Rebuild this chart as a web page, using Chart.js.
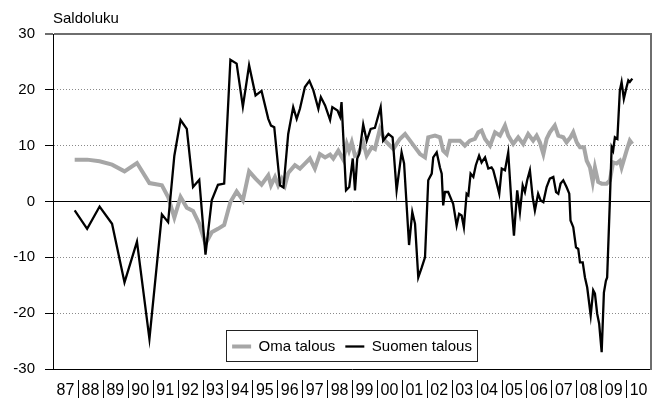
<!DOCTYPE html>
<html>
<head>
<meta charset="utf-8">
<script src="https://cdn.jsdelivr.net/npm/chart.js@4.4.1/dist/chart.umd.min.js"></script>
<style>
html,body{margin:0;padding:0;background:#fff;}
#wrap{width:664px;height:401px;position:relative;}
</style>
</head>
<body>
<div id="wrap"><canvas id="c"></canvas></div>
<script>
// ---- tick labels / categories ----
const xLabels = ['87','88','89','90','91','92','93','94','95','96','97','98','99','00','01','02','03','04','05','06','07','08','09','10'];
const firstYear = 1987;
const yMin = -30, yMax = 30, yStep = 10;
const seriesNames = ['Oma talous', 'Suomen talous'];

// ---- early survey dates (semi-annual, then quarterly), shared by both series ----
const earlyDates = [1987.87,1988.37,1988.87,1989.37,1989.87,1990.37,1990.87,
  1991.37,1991.62,1991.87,1992.12,1992.37,1992.62,1992.87,1993.12,1993.37,1993.62,1993.87,1994.12,1994.37,1994.62,1994.87];
const omaEarly = [7.5,7.5,7.2,6.6,5.4,6.9,3.3,
  2.9,0.8,-2.9,0.8,-1.1,-1.7,-4.0,-7.6,-5.5,-4.9,-4.2,-0.1,1.8,0.2,5.4];
const suomenEarly = [-1.6,-4.9,-0.9,-4.0,-14.5,-7.2,-24.6,
  -2.3,-3.7,8.2,14.6,13.0,2.6,3.9,-9.5,0.2,3.0,3.2,25.4,24.7,17.0,24.4];

// ---- Oma talous (monthly period) ----
const omaDates = [1995.13,1995.37,1995.64,1995.75,1995.91,1996.04,1996.18,1996.31,1996.44,1996.71,1996.91,
  1997.11,1997.31,1997.51,1997.71,1997.92,1998.12,1998.25,1998.45,1998.65,1998.79,1998.88,1998.99,
  1999.12,1999.25,1999.45,1999.59,1999.79,1999.92,2000.12,2000.32,2000.46,2000.66,2000.79,2000.92,
  2001.13,2001.33,2001.53,2001.73,2001.93,2002.06,2002.33,2002.53,2002.66,2002.80,2002.93,
  2003.13,2003.33,2003.53,2003.73,2003.93,2004.07,2004.20,2004.34,2004.54,2004.74,2004.94,
  2005.14,2005.27,2005.47,2005.67,2005.87,2006.07,2006.27,2006.41,2006.54,2006.68,2006.81,2006.94,
  2007.14,2007.28,2007.48,2007.61,2007.77,2007.88,2008.02,2008.15,2008.31,2008.42,2008.55,2008.66,2008.75,2008.88,
  2009.02,2009.22,2009.35,2009.48,2009.62,2009.75,2009.82,2010.02,2010.15,2010.25];
const omaValues = [4.1,3.0,4.7,2.9,4.4,2.9,4.1,2.9,5.1,6.5,5.9,
  6.8,7.7,5.9,8.5,7.9,8.4,7.7,9.1,7.5,10.3,9.1,10.6,
  8.2,8.5,10.6,8.2,9.7,9.4,13.0,10.9,10.3,9.4,10.3,11.2,
  12.1,10.9,9.7,8.5,7.9,11.5,11.8,11.5,9.1,8.5,10.9,
  10.9,10.9,10.0,10.9,11.2,12.4,12.7,11.2,10.0,12.4,11.8,
  13.6,11.8,10.3,11.5,10.3,12.1,10.9,11.8,10.6,8.5,11.2,12.4,
  13.6,11.8,11.5,10.6,11.5,12.4,10.6,9.7,9.7,7.3,6.1,3.5,6.1,3.5,
  3.2,3.2,3.8,7.0,6.8,7.3,6.1,9.1,10.9,10.3];

// ---- Suomen talous (monthly period) ----
const suomenDates = [1995.13,1995.37,1995.64,1995.75,1995.88,1996.11,1996.25,1996.44,1996.64,1996.78,1996.91,
  1997.11,1997.29,1997.45,1997.65,1997.75,1997.92,1998.12,1998.21,1998.42,1998.52,1998.58,1998.76,1998.89,
  1999.03,1999.12,1999.21,1999.29,1999.45,1999.59,1999.75,1999.92,2000.15,2000.25,2000.46,2000.63,2000.79,2000.99,
  2001.09,2001.29,2001.42,2001.53,2001.66,2001.80,2001.93,2002.06,2002.20,2002.26,2002.40,2002.53,2002.60,2002.66,2002.73,2002.86,
  2003.00,2003.06,2003.20,2003.30,2003.40,2003.49,2003.60,2003.67,2003.76,2003.87,2003.97,
  2004.10,2004.20,2004.34,2004.47,2004.60,2004.67,2004.81,2004.91,2005.01,2005.14,2005.27,2005.41,2005.50,2005.63,2005.74,2005.85,2005.94,
  2006.03,2006.14,2006.25,2006.34,2006.47,2006.57,2006.68,2006.81,2006.94,2007.08,2007.19,2007.28,2007.37,2007.48,2007.61,2007.72,2007.77,2007.88,2007.99,
  2008.08,2008.15,2008.26,2008.35,2008.44,2008.58,2008.68,2008.75,2008.84,2008.92,2009.02,2009.11,2009.19,2009.24,2009.35,2009.42,2009.48,2009.55,2009.65,
  2009.75,2009.82,2009.91,2010.02,2010.09,2010.15,2010.25];
const suomenValues = [19.0,19.8,14.8,13.6,13.3,2.9,2.5,12.1,16.9,14.8,16.6,
  20.5,21.6,19.9,16.6,18.7,17.2,14.6,16.9,16.3,15.2,17.8,2.0,2.6,
  7.7,2.0,7.7,8.5,13.8,10.9,13.0,13.2,16.9,10.9,12.1,11.5,2.0,8.8,
  6.8,-7.8,-1.9,-4.0,-13.6,-11.8,-10.0,3.8,5.0,7.9,8.8,6.1,5.0,-0.7,1.7,1.7,
  0.2,-0.4,-4.3,-2.2,-2.5,-4.6,1.4,1.1,5.0,4.4,6.5,
  8.2,7.0,7.9,5.9,6.1,5.6,3.2,1.4,5.9,5.6,8.8,-1.0,-6.1,2.0,-1.9,2.9,1.7,
  3.8,5.6,0.8,-1.6,1.4,0.2,-0.1,2.6,4.1,4.4,1.7,1.4,3.2,3.8,2.6,1.4,-3.4,-4.6,-8.2,
  -8.5,-10.9,-10.9,-13.6,-15.4,-20.4,-15.9,-16.5,-20.1,-21.9,-27.0,-16.3,-14.2,-13.6,0.2,9.7,9.1,11.5,11.2,
  19.9,21.4,18.4,20.5,21.7,21.4,22.0];

function toPoints(dates, values) {
  return dates.map((d, i) => ({x: d, y: values[i]}));
}
const omaData = toPoints(earlyDates, omaEarly).concat(toPoints(omaDates, omaValues));
const suomenData = toPoints(earlyDates, suomenEarly).concat(toPoints(suomenDates, suomenValues));

const FONT = "'Liberation Sans', Arial, sans-serif";
Chart.defaults.font.family = FONT;
Chart.defaults.color = '#000';

const helperPlugin = {
  id: 'helper',
  afterLayout(chart) {
    const lg = chart.legend;
    const ca = chart.chartArea;
    if (!lg) return;
    lg.left = ca.left; lg.right = ca.right; lg.width = ca.right - ca.left;
    lg.top = ca.bottom - 40; lg.height = 31; lg.bottom = lg.top + lg.height;
  },
  afterDraw(chart) {
    const ctx = chart.ctx;
    const ca = chart.chartArea;
    const xs = chart.scales.x;
    // year separators in the label row
    ctx.save();
    ctx.strokeStyle = '#000';
    ctx.lineWidth = 1;
    ctx.beginPath();
    for (let i = 1; i < xLabels.length; i++) {
      const px = Math.round(xs.getPixelForValue(firstYear + i)) + 0.5;
      ctx.moveTo(px, ca.bottom + 11);
      ctx.lineTo(px, ca.bottom + 29);
    }
    ctx.stroke();
    // legend frame
    const lg = chart.legend;
    if (lg && lg.legendHitBoxes && lg.legendHitBoxes.length) {
      const hb = lg.legendHitBoxes;
      const l = Math.min(...hb.map(b => b.left)) - 6;
      const r = Math.max(...hb.map(b => b.left + b.width)) + 5;
      const t = hb[0].top - 9;
      const h = 31;
      ctx.strokeStyle = '#222';
      ctx.strokeRect(Math.round(l) + 0.5, Math.round(t) + 0.5, Math.round(r - l), h);
    }
    ctx.restore();
  }
};

new Chart(document.getElementById('c'), {
  type: 'line',
  data: {
    datasets: [
      {label: seriesNames[0], data: omaData, borderColor: '#a6a6a6', backgroundColor: '#a6a6a6',
       borderWidth: 4, pointRadius: 0, fill: false, tension: 0, order: 1},
      {label: seriesNames[1], data: suomenData, borderColor: '#000', backgroundColor: '#000',
       borderWidth: 2.3, pointRadius: 0, fill: false, tension: 0, order: 0}
    ]
  },
  options: {
    responsive: true,
    maintainAspectRatio: false,
    animation: false,
    devicePixelRatio: 1,
    events: [],
    layout: {padding: 0},
    plugins: {
      title: {display: true, text: 'Saldoluku', align: 'start', fullSize: false,
        color: '#000', font: {size: 15, weight: 'normal', family: FONT}, padding: {top: 10, bottom: 5}},
      legend: {display: true, position: 'top', maxHeight: 1,
        labels: {usePointStyle: true, pointStyle: 'line', pointStyleWidth: 19, padding: 10,
          color: '#000', font: {size: 15, family: FONT},
          sort: (a, b) => a.datasetIndex - b.datasetIndex}},
      tooltip: {enabled: false}
    },
    scales: {
      x: {
        type: 'linear',
        min: firstYear,
        max: firstYear + xLabels.length,
        afterBuildTicks(axis) {
          axis.ticks = xLabels.map((_, i) => ({value: firstYear + i + 0.5}));
        },
        afterFit(axis) { axis.height = 32; },
        ticks: {autoSkip: false, maxRotation: 0, minRotation: 0, padding: 12,
          color: '#000', font: {size: 16, family: FONT},
          callback: (v, i) => xLabels[i]},
        grid: {display: false, drawTicks: false, tickLength: 0},
        border: {display: true, color: '#000', width: 1}
      },
      y: {
        min: yMin, max: yMax,
        afterFit(axis) { axis.width = 53; },
        ticks: {stepSize: yStep, padding: 10, color: '#000', font: {size: 15, family: FONT}},
        grid: {
          drawTicks: true, tickLength: 8,
          color: c => { const v = c.tick ? c.tick.value : null;
            return v === 0 ? '#000' : v === yMax ? '#6e6e6e' : v === yMin ? 'rgba(0,0,0,0)' : '#8a8a8a'; },
          lineWidth: c => (c.tick && c.tick.value === yMax) ? 2 : 1,
          tickColor: c => (c.tick && c.tick.value === yMax) ? '#6e6e6e' : '#000',
          tickWidth: c => (c.tick && c.tick.value === yMax) ? 2 : 1,
          tickBorderDash: []
        },
        border: {display: true, color: '#000', width: 1,
          dash: c => (c.tick && c.tick.value !== 0 && c.tick.value !== yMax && c.tick.value !== yMin) ? [1, 2] : []}
      },
      y2: {
        position: 'right', min: yMin, max: yMax,
        afterFit(axis) { axis.width = 13; },
        ticks: {display: false},
        grid: {display: false, drawTicks: false},
        border: {display: true, color: '#6e6e6e', width: 2}
      }
    }
  },
  plugins: [helperPlugin]
});
</script>
</body>
</html>
